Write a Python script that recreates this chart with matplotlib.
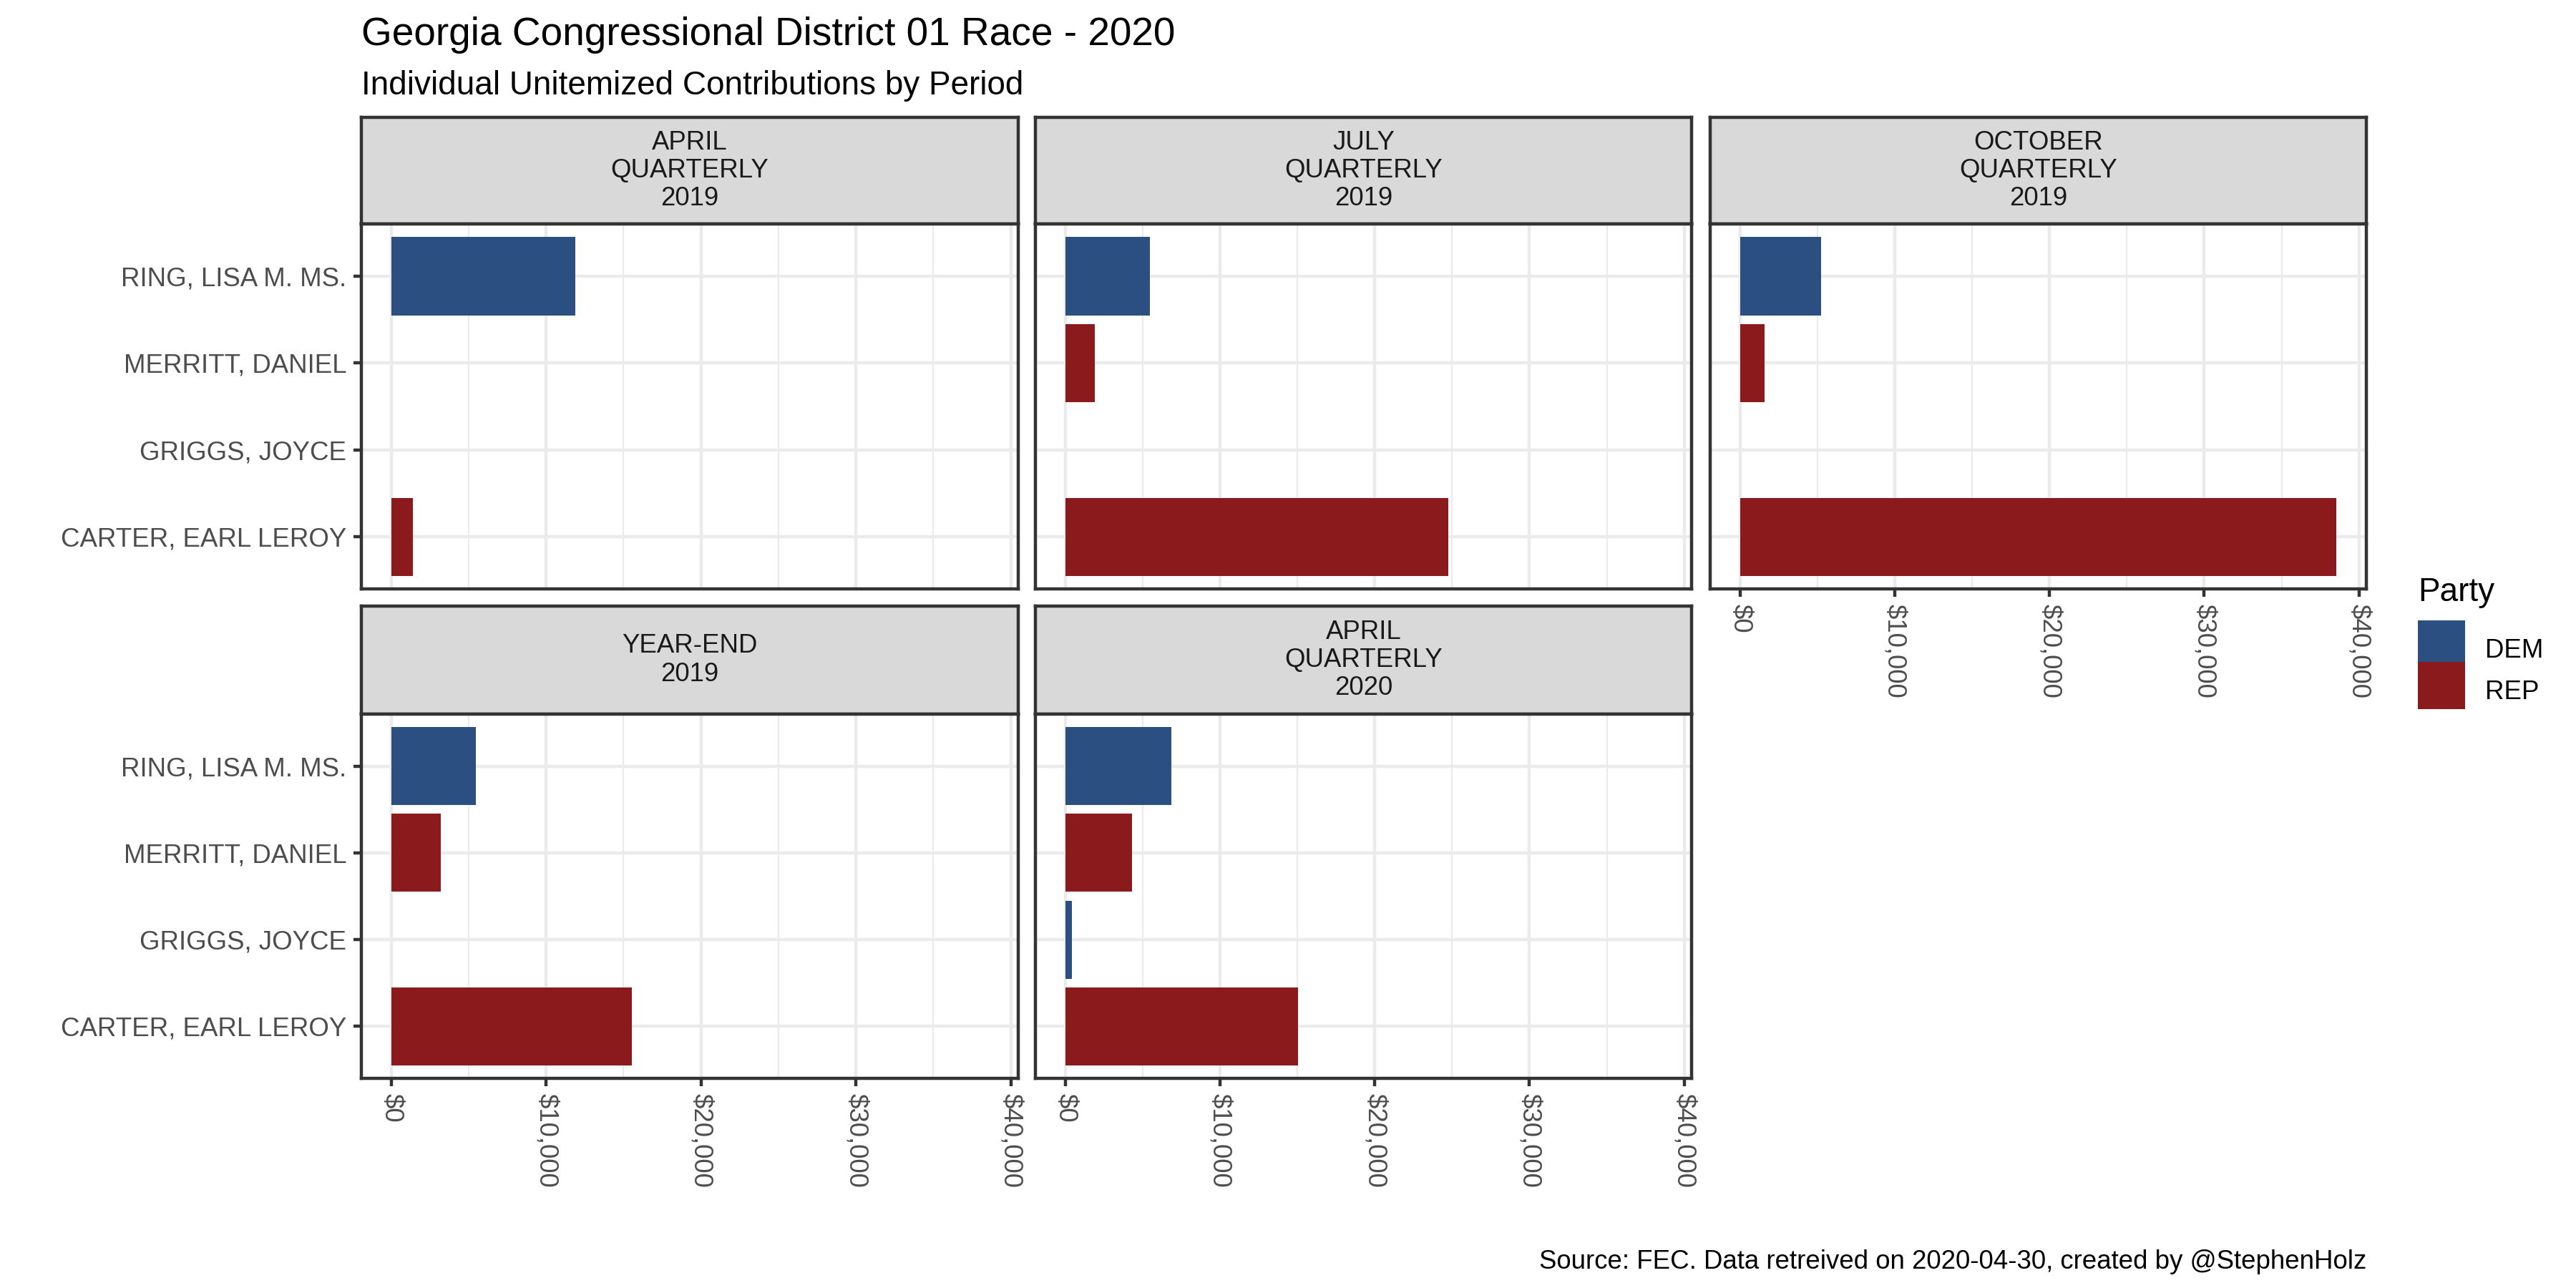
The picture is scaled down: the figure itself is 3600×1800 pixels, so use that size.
import numpy as np
import matplotlib
matplotlib.use("Agg")
import matplotlib.pyplot as plt
from matplotlib.patches import Patch, Rectangle
from matplotlib.legend_handler import HandlerPatch
from matplotlib.ticker import FuncFormatter, MultipleLocator

plt.rcParams['font.family'] = ['Liberation Sans', 'DejaVu Sans']

# data
periods = ['APRIL\nQUARTERLY\n2019', 'JULY\nQUARTERLY\n2019', 'OCTOBER\nQUARTERLY\n2019',
           'YEAR-END\n2019', 'APRIL\nQUARTERLY\n2020']
candidates = ['CARTER, EARL LEROY', 'GRIGGS, JOYCE', 'MERRITT, DANIEL', 'RING, LISA M. MS.']
parties = ['REP', 'DEM', 'REP', 'DEM']
carter = [1420, 24750, 38550, 15550, 15050]
griggs = [np.nan, np.nan, np.nan, np.nan, 410]
merritt = [np.nan, 1900, 1580, 3200, 4300]
ring = [11900, 5470, 5220, 5450, 6850]
x_ticks = [0, 10000, 20000, 30000, 40000]

party_colors = {'DEM': '#2C4F81', 'REP': '#8B1A1D'}
values = np.array([carter, griggs, merritt, ring])

W, H = 3600, 1800


def box(left, top, right, bottom):
    return [left / W, 1 - bottom / H, (right - left) / W, (bottom - top) / H]


def full_key(legend, orig_handle, xdescent, ydescent, width, height, fontsize):
    # legend key that fills the whole handle box, like ggplot's square keys
    return Rectangle((-xdescent, -ydescent), width, height + ydescent)


cols = [(505, 1423), (1447, 2364), (2390, 3307)]
rows = [(164, 313, 823), (847, 998, 1507)]

border = '#333333'
lw = 1.07
vmax = np.nanmax(values)

fig = plt.figure(figsize=(12, 6), dpi=300)

for i, period in enumerate(periods):
    r, c = divmod(i, 3)
    left, right = cols[c]
    top, mid, bottom = rows[r]

    # strip on top of each facet
    sax = fig.add_axes(box(left, top, right, mid))
    sax.set_facecolor('#D9D9D9')
    sax.set_xticks([])
    sax.set_yticks([])
    for s in sax.spines.values():
        s.set_color(border)
        s.set_linewidth(lw)
    sax.text(0.5, 0.5, period, ha='center', va='center', fontsize=8.8,
             color='#1A1A1A', linespacing=1.15, transform=sax.transAxes)

    ax = fig.add_axes(box(left, mid, right, bottom))
    ax.set_axisbelow(True)
    ypos = np.arange(len(candidates))
    for j, cand in enumerate(candidates):
        v = values[j, i]
        if not np.isnan(v):
            ax.barh(ypos[j], v, height=0.9, color=party_colors[parties[j]])

    ax.set_xlim(-0.05 * vmax, 1.05 * vmax)
    ax.set_ylim(-0.6, len(candidates) - 0.4)
    ax.set_xticks(x_ticks)
    ax.xaxis.set_minor_locator(MultipleLocator(5000))
    ax.xaxis.set_major_formatter(FuncFormatter(lambda v, p: f'${v:,.0f}'))
    ax.set_yticks(ypos)
    ax.set_yticklabels(candidates)
    ax.grid(which='major', color='#EBEBEB', linewidth=1.07)
    ax.grid(which='minor', axis='x', color='#EBEBEB', linewidth=0.53)
    for s in ax.spines.values():
        s.set_color(border)
        s.set_linewidth(lw)

    ax.tick_params(axis='both', which='minor', length=0)
    ax.tick_params(axis='both', which='major', length=2.75, width=lw, color=border,
                   labelsize=8.8, labelcolor='#4D4D4D', pad=2.2)
    ax.tick_params(axis='x', labelrotation=270)

    # x axis only at the bottom panel of each column, y axis only in first column
    show_x = (r == 1) or (c == 2)
    show_y = (c == 0)
    if not show_x:
        ax.tick_params(axis='x', which='major', length=0, labelbottom=False)
    else:
        for lab in ax.get_xticklabels():
            lab.set_va('top')
            lab.set_ha('center')
    if not show_y:
        ax.tick_params(axis='y', which='major', length=0, labelleft=False)

fig.text(505 / W, 1 - 63 / H, 'Georgia Congressional District 01 Race - 2020',
         fontsize=13.2, ha='left', va='baseline', color='black')
fig.text(505 / W, 1 - 132 / H, 'Individual Unitemized Contributions by Period',
         fontsize=11, ha='left', va='baseline', color='black')
fig.text(3307 / W, 1 - 1773 / H, 'Source: FEC. Data retreived on 2020-04-30, created by @StephenHolz',
         fontsize=8.8, ha='right', va='baseline', color='black')

handles = [Patch(facecolor=party_colors[p], edgecolor='none', label=p) for p in ['DEM', 'REP']]
leg = fig.legend(handles=handles, title='Party', loc='upper left',
                 bbox_to_anchor=(3379 / W, 1 - 806 / H), frameon=False,
                 fontsize=8.8, title_fontsize=11, handlelength=1.8, handleheight=1.8,
                 labelspacing=0.16, handletextpad=0.76, borderpad=0, borderaxespad=0,
                 handler_map={Patch: HandlerPatch(patch_func=full_key)})
leg._legend_box.align = 'left'
leg._legend_box.sep = 7.5

fig.savefig('out.png', dpi=300, facecolor='white')
